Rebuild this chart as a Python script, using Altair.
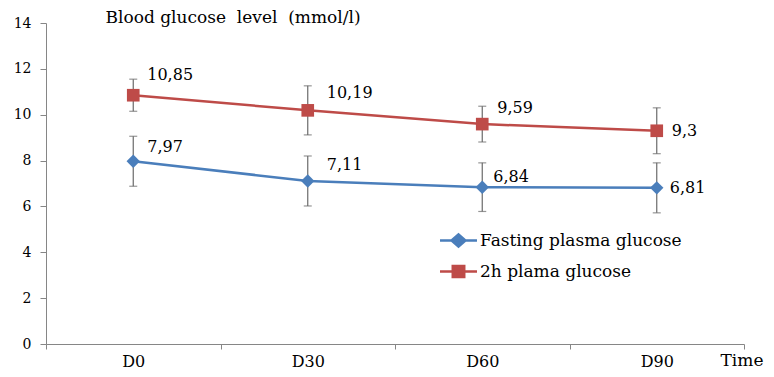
import altair as alt
import pandas as pd

# ---------------- data ----------------
time_points = ["D0", "D30", "D60", "D90"]
series_names = ["Fasting plasma glucose", "2h plama glucose"]
fasting_mean = [7.97, 7.11, 6.84, 6.81]
fasting_sd = [1.09, 1.09, 1.06, 1.09]
twohour_mean = [10.85, 10.19, 9.59, 9.3]
twohour_sd = [0.70, 1.07, 0.78, 1.00]
y_ticks = [0, 2, 4, 6, 8, 10, 12, 14]

# label offsets (style, kept apart from values)
fasting_label_dx = [14, 19, 11, 13]
fasting_label_dy = [-14, -16, -10, 0]
twohour_label_dx = [14, 19, 15, 15]
twohour_label_dy = [-20, -17, -16, 0]

colors = ["#4A7EBB", "#BE4B48"]
marker_shapes = ["diamond", "square"]
legend_paths = [
    "M-2,0L2,0M-0.75,0L0,-0.65L0.75,0L0,0.65Z",
    "M-2,0L2,0M-0.62,-0.6L0.62,-0.6L0.62,0.6L-0.62,0.6Z",
]
FONT = "DejaVu Serif"
AXIS_GRAY = "#868686"
ERR_GRAY = "#6a6a6a"

rows = []
for name, means, sds in [
    (series_names[0], fasting_mean, fasting_sd),
    (series_names[1], twohour_mean, twohour_sd),
]:
    for t, m, s in zip(time_points, means, sds):
        rows.append({
            "time": t, "series": name, "value": m,
            "lo": round(m - s, 3), "hi": round(m + s, 3),
            "label": f"{m:g}".replace(".", ","),
        })
df = pd.DataFrame(rows)

x_scale = alt.Scale(type="band", domain=time_points, paddingInner=0, paddingOuter=0)
y_scale = alt.Scale(domain=[0, 14], nice=False)


def X():
    return alt.X(
        "time:N", scale=x_scale, sort=time_points,
        axis=alt.Axis(
            title="Time", titleX=674, titleY=21, titleAlign="left",
            titleAnchor="start", titleBaseline="alphabetic", titleAngle=0,
            titleFont=FONT, titleFontSize=17, titleFontWeight="normal", titleColor="black",
            labelFont=FONT, labelFontSize=16, labelColor="black", labelAngle=0,
            labelBaseline="alphabetic", labelPadding=17,
            tickBand="extent", tickSize=5, tickColor=AXIS_GRAY,
            domainColor=AXIS_GRAY, grid=False,
        ),
    )


def Y(field="value"):
    return alt.Y(
        f"{field}:Q", scale=y_scale,
        axis=alt.Axis(
            values=y_ticks, grid=False, tickSize=6, tickColor=AXIS_GRAY,
            domainColor=AXIS_GRAY, labelFont=FONT, labelFontSize=14,
            labelColor="black", labelPadding=9,
            title="Blood glucose\u00a0 level\u00a0 (mmol/l)", titleAngle=0,
            titleAlign="left", titleBaseline="alphabetic", titleX=59, titleY=-1,
            titleFont=FONT, titleFontSize=17, titleFontWeight="normal", titleColor="black",
            titleLimit=0,
        ),
    )


base = alt.Chart(df)
layers = []
offsets = [(fasting_label_dx, fasting_label_dy), (twohour_label_dx, twohour_label_dy)]
for i, name in enumerate(series_names):
    sub = base.transform_filter(alt.datum.series == name)
    layers.append(
        sub.mark_rule(color=ERR_GRAY, strokeWidth=1.2).encode(x=X(), y=Y("lo"), y2="hi:Q")
    )
    layers.append(
        sub.mark_tick(color=ERR_GRAY, size=8, thickness=1.2).encode(x=X(), y=Y("lo"))
    )
    layers.append(
        sub.mark_tick(color=ERR_GRAY, size=8, thickness=1.2).encode(x=X(), y=Y("hi"))
    )
    layers.append(
        sub.mark_line(color=colors[i], strokeWidth=2.5).encode(x=X(), y=Y())
    )
    layers.append(
        sub.mark_point(shape=marker_shapes[i], filled=True, opacity=1,
                       color=colors[i], size=180 if i == 0 else 160).encode(x=X(), y=Y())
    )
    dxs, dys = offsets[i]
    for t, dx, dy in zip(time_points, dxs, dys):
        layers.append(
            sub.transform_filter(alt.datum.time == t)
            .mark_text(align="left", baseline="middle", dx=dx, dy=dy,
                       font=FONT, fontSize=16, color="black")
            .encode(x=X(), y=Y(), text="label:N")
        )

legend_kw = dict(
    title=None, orient="none", legendX=402, legendY=207,
    labelFont=FONT, labelFontSize=17, labelColor="black", labelLimit=0,
    symbolSize=342, symbolStrokeWidth=2.5, labelOffset=11,
    rowPadding=8, padding=0, symbolOpacity=1,
)
legend_layer = (
    base.transform_filter("false")
    .mark_point(filled=True, strokeWidth=2.5)
    .encode(
        color=alt.Color("series:N", scale=alt.Scale(domain=series_names, range=colors),
                        legend=alt.Legend(**legend_kw)),
        stroke=alt.Stroke("series:N", scale=alt.Scale(domain=series_names, range=colors),
                          legend=alt.Legend(**legend_kw)),
        shape=alt.Shape("series:N", scale=alt.Scale(domain=series_names, range=legend_paths),
                        legend=alt.Legend(**legend_kw)),
    )
)
layers.append(legend_layer)

chart = (
    alt.layer(*layers)
    .properties(
        width=698, height=321,
        autosize=alt.AutoSizeParams(type="none"),
        padding={"left": 38, "top": 15, "right": 22, "bottom": 25},
        background="white",
    )
    .configure_view(stroke=None)
)

chart.save("out.html", embed_options={"renderer": "svg", "actions": False})
